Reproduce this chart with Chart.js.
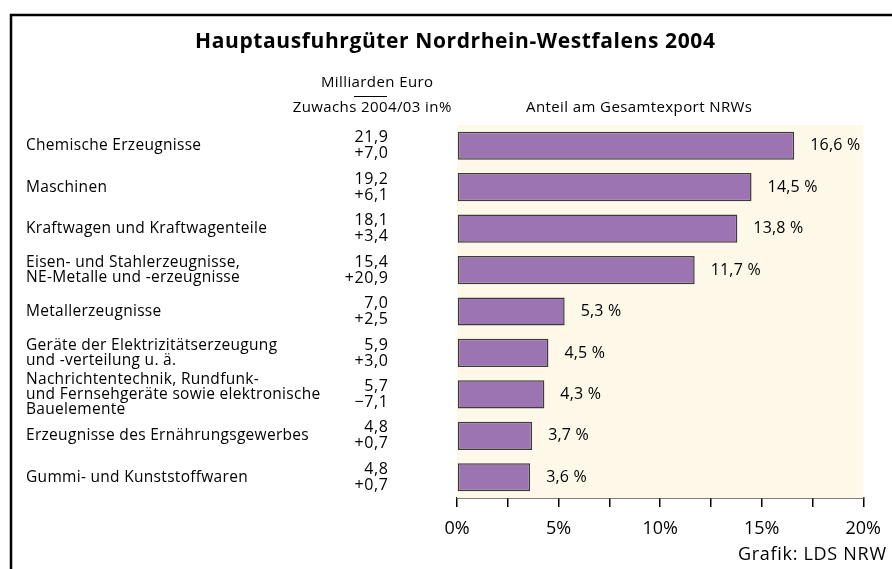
<!DOCTYPE html>
<html>
<head>
<meta charset="utf-8">
<script src="https://cdn.jsdelivr.net/npm/chart.js@4.4.1/dist/chart.umd.min.js"></script>
<style>
  html, body { margin: 0; padding: 0; background: #fff; }
  #wrap { width: 892px; height: 569px; position: relative; }
</style>
</head>
<body>
<div id="wrap"><canvas id="chart" width="892" height="569"></canvas></div>
<script>
// Daten
const categories = [
    ['Chemische Erzeugnisse'],
    ['Maschinen'],
    ['Kraftwagen und Kraftwagenteile'],
    ['Eisen- und Stahlerzeugnisse,', 'NE-Metalle und -erzeugnisse'],
    ['Metallerzeugnisse'],
    ['Geräte der Elektrizitätserzeugung', 'und -verteilung u. ä.'],
    ['Nachrichtentechnik, Rundfunk-', 'und Fernsehgeräte sowie elektronische', 'Bauelemente'],
    ['Erzeugnisse des Ernährungsgewerbes'],
    ['Gummi- und Kunststoffwaren']
];
const milliardenEuro = ['21,9', '19,2', '18,1', '15,4', '7,0', '5,9', '5,7', '4,8', '4,8'];
const zuwachs = ['+7,0', '+6,1', '+3,4', '+20,9', '+2,5', '+3,0', '\u22127,1', '+0,7', '+0,7'];
const anteil = [16.6, 14.5, 13.8, 11.7, 5.3, 4.5, 4.3, 3.7, 3.6];
const xTicks = [0, 5, 10, 15, 20];

const FONT = '"Open Sans", "DejaVu Sans", sans-serif';

function txt(ctx, s, x, y, font, align, spacing) {
    ctx.font = font + ' ' + FONT;
    ctx.textAlign = align;
    ctx.letterSpacing = (spacing || 0) + 'px';
    // bei Rechtsbündigkeit den letzten Abstand ausgleichen
    const dx = align === 'right' ? (spacing || 0) : (align === 'center' ? (spacing || 0) / 2 : 0);
    ctx.fillText(s, x + dx, y);
    ctx.letterSpacing = '0px';
}

// Rahmen, Hintergrund und Texte
const decoPlugin = {
    id: 'deco',
    beforeDatasetsDraw(chart) {
        const { ctx, chartArea: a } = chart;
        ctx.save();
        ctx.fillStyle = '#fdf8e7';
        ctx.fillRect(a.left, a.top, a.right - a.left, a.bottom - a.top);
        ctx.restore();
    },
    afterDraw(chart) {
        const { ctx } = chart;
        const yScale = chart.scales.y;
        const xScale = chart.scales.x;
        ctx.save();
        // Rahmen
        ctx.strokeStyle = '#000';
        ctx.lineWidth = 2.5;
        ctx.beginPath();
        ctx.moveTo(11, 569);
        ctx.lineTo(11, 15);
        ctx.lineTo(892, 15);
        ctx.stroke();

        ctx.fillStyle = '#000';
        ctx.textBaseline = 'middle';
        // Titel
        txt(ctx, 'Hauptausfuhrgüter Nordrhein-Westfalens 2004', 455, 42, 'bold 21px', 'center', 0.6);

        // Spaltenköpfe
        txt(ctx, 'Milliarden Euro', 377, 83, '15px', 'center', 0.4);
        txt(ctx, 'Zuwachs 2004/03 in%', 372, 108, '15px', 'center', 0.4);
        txt(ctx, 'Anteil am Gesamtexport NRWs', 639, 108, '15px', 'center', 0.4);
        ctx.lineWidth = 1;
        ctx.beginPath();
        ctx.moveTo(354, 96.5);
        ctx.lineTo(387, 96.5);
        ctx.stroke();

        // Kategorien und Werte
        categories.forEach((lines, i) => {
            const y = yScale.getPixelForValue(i);
            const lh = 15;
            lines.forEach((t, k) => {
                txt(ctx, t, 26, y + (k - (lines.length - 1) / 2) * lh, '15.5px', 'left', 0.3);
            });
            txt(ctx, milliardenEuro[i], 388, y - 8, '16px', 'right', 0.6);
            txt(ctx, zuwachs[i], 388, y + 8, '16px', 'right', 0.6);
            txt(ctx, anteil[i].toFixed(1).replace('.', ',') + ' %', xScale.getPixelForValue(anteil[i]) + 16, y, '16px', 'left', 0.2);
        });

        // Quelle
        txt(ctx, 'Grafik: LDS NRW', 886, 555, '18px', 'right', 0.7);
        ctx.restore();
    }
};

new Chart(document.getElementById('chart'), {
    type: 'bar',
    data: {
        labels: categories.map(c => c.join(' ')),
        datasets: [{
            data: anteil,
            backgroundColor: '#9b74b1',
            borderColor: '#3c3c3c',
            borderWidth: 1.5,
            borderSkipped: false,
            categoryPercentage: 1,
            barPercentage: 0.68
        }]
    },
    options: {
        indexAxis: 'y',
        responsive: false,
        animation: false,
        layout: { padding: { left: 457, right: 27, top: 125, bottom: 0 } },
        plugins: { legend: { display: false }, tooltip: { enabled: false } },
        scales: {
            y: { display: false },
            x: {
                min: 0,
                max: 20,
                afterBuildTicks: s => { s.ticks = [0, 2.5, 5, 7.5, 10, 12.5, 15, 17.5, 20].map(v => ({ value: v })); },
                afterFit: s => { s.height = 71; },
                border: { display: true, color: '#000', width: 1.5 },
                grid: { drawOnChartArea: false, drawTicks: true, tickLength: 9, color: '#000', lineWidth: 1.5 },
                ticks: {
                    autoSkip: false,
                    maxRotation: 0,
                    padding: 11,
                    color: '#000',
                    font: { family: FONT, size: 18 },
                    callback: v => xTicks.includes(v) ? v + '%' : ''
                }
            }
        }
    },
    plugins: [decoPlugin]
});
</script>
</body>
</html>
